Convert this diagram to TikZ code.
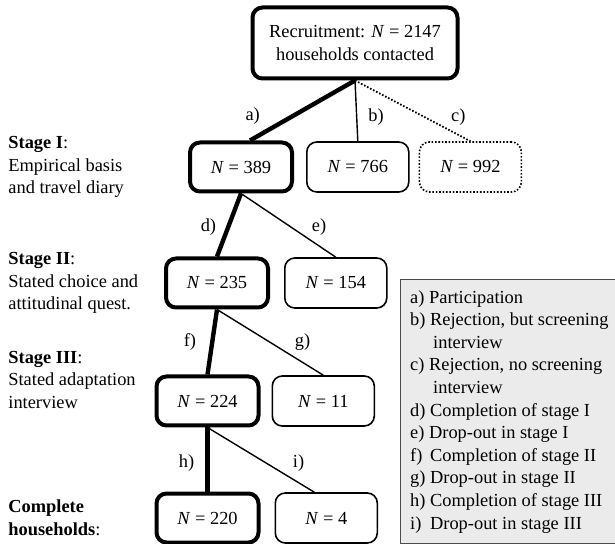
\documentclass[tikz,border=0pt]{standalone}
\usepackage{fontspec}
\setmainfont{Liberation Serif}
\usepackage{xcolor}
\usepackage{tikz}
\usetikzlibrary{positioning}
\tikzstyle{headbox} = [rectangle, rounded corners=5pt, align=center, minimum width=102.5pt, minimum height=35.5pt, draw=black, line width=2pt]
\tikzstyle{mainbox} = [rectangle, rounded corners=5pt, minimum width=51pt, minimum height=24.5pt, draw=black, line width=2pt]
\tikzstyle{sidebox} = [rectangle, rounded corners=5pt, minimum width=51pt, minimum height=25pt, draw=black, line width=0.8pt]
\tikzstyle{lostbox} = [sidebox, dash pattern=on 0.8pt off 0.9pt]
\tikzstyle{mainpath} = [line width=2.2pt]
\tikzstyle{sidepath} = [line width=0.7pt]
\tikzstyle{lostpath} = [line width=0.9pt, dash pattern=on 0.8pt off 0.9pt]
\tikzstyle{branchlabel} = [inner sep=0pt]
\tikzstyle{stagetext} = [align=left, anchor=west, inner sep=0pt]
\tikzstyle{keybox} = [rectangle, align=left, draw=black!70, fill=black!8, line width=0.6pt, minimum width=107.5pt, minimum height=132pt, inner xsep=5pt, inner ysep=4pt]

\begin{document}
\begin{tikzpicture}[node distance = 58.5pt, every node/.style={font=\fontsize{9.2}{11.3}\selectfont}]

	\useasboundingbox (0,0) rectangle (307.5pt,-272pt);

	\node (root) [headbox] at (177.5pt,-21.5pt) {Recruitment: \textit{N} = 2147\\households contacted};
	\node (n389) [mainbox, below of=root, node distance=62pt, xshift=-57pt] {\textit{N} = 389};
	\node (n766) [sidebox, right=6pt of n389] {\textit{N} = 766};
	\node (n992) [lostbox, right=4.5pt of n766] {\textit{N} = 992};
	\node (n235) [mainbox, below of=n389, node distance=58pt, xshift=-12pt] {\textit{N} = 235};
	\node (n154) [sidebox, right=7pt of n235] {\textit{N} = 154};
	\node (n224) [mainbox, below of=n235, node distance=59pt, xshift=-4.75pt] {\textit{N} = 224};
	\node (n11) [sidebox, right=5.5pt of n224] {\textit{N} = 11};
	\node (n220) [mainbox, below of=n224] {\textit{N} = 220};
	\node (n4) [sidebox, right=7pt of n220] {\textit{N} = 4};

	\coordinate (leftedge) at (4pt,0);
	\node (stage1) [stagetext] at (leftedge |- n389) {\textbf{Stage I}:\\Empirical basis\\and travel diary};
	\node (stage2) [stagetext] at (leftedge |- n235) {\textbf{Stage II}:\\Stated choice and\\attitudinal quest.};
	\node (stage3) [stagetext, yshift=10.5pt] at (leftedge |- n224) {\textbf{Stage III}:\\Stated adaptation\\interview};
	\node (stage4) [stagetext] at (leftedge |- n220) {\textbf{Complete}\\\textbf{households}:};

	\node (key) [keybox, below right=11pt and 6pt of n154.north east] {a) Participation\\b) Rejection, but screening\\\hspace*{11.5pt}interview\\c) Rejection, no screening\\\hspace*{11.5pt}interview\\d) Completion of stage I\\e) Drop-out in stage I\\\rlap{f)}\hphantom{d)} Completion of stage II\\g) Drop-out in stage II\\h) Completion of stage III\\\rlap{i)}\hphantom{d)} Drop-out in stage III};

	\draw [mainpath] (root.south) -- ([xshift=4.5pt]n389.north) node [branchlabel, pos=0.6, left=15pt] {a)};
	\draw [sidepath] (root.south) -- (n766.north) node [branchlabel, pos=0.6, right=5.5pt] {b)};
	\draw [lostpath] (root.south) -- (n992.north) node [branchlabel, pos=0.6, right=13pt] {c)};
	\draw [mainpath] (n389.south) -- (n235.north) node [branchlabel, pos=0.53, left=5pt] {d)};
	\draw [sidepath] (n389.south) -- (n154.north) node [branchlabel, pos=0.53, right=10pt] {e)};
	\draw [mainpath] (n235.south) -- (n224.north) node [branchlabel, pos=0.5, left=7pt] {f)};
	\draw [sidepath] (n235.south) -- (n11.north) node [branchlabel, pos=0.5, right=12pt] {g)};
	\draw [mainpath] (n224.south) -- (n220.north) node [branchlabel, pos=0.55, left=5.5pt] {h)};
	\draw [sidepath] (n224.south) -- ([xshift=-6pt]n4.north) node [branchlabel, pos=0.55, right=13pt] {i)};

\end{tikzpicture}
\end{document}
